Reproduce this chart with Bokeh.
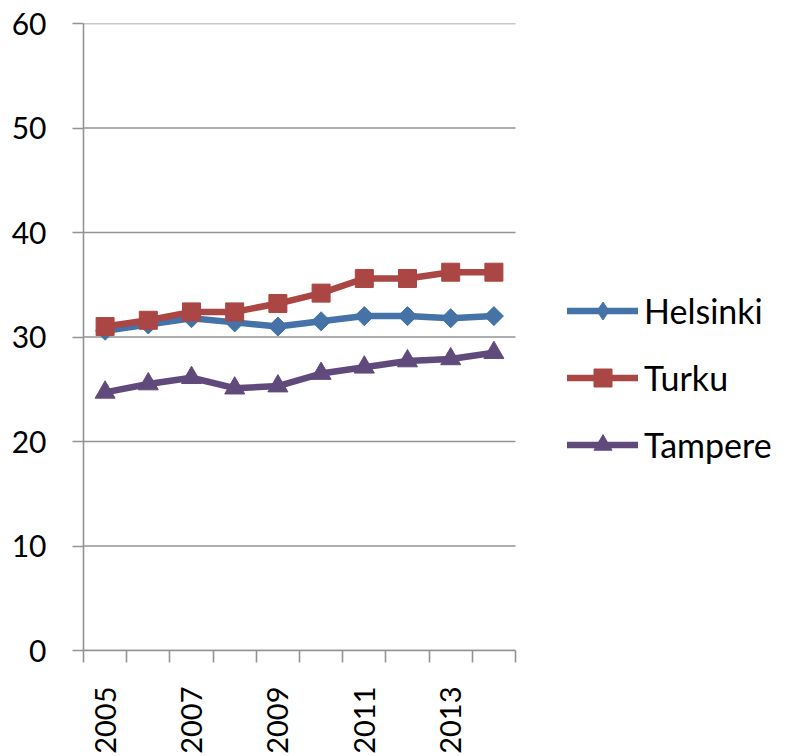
import math
from bokeh.plotting import figure
from bokeh.models import (Range1d, FixedTicker, Legend, LegendItem)
from bokeh.embed import file_html
from bokeh.resources import INLINE

years = ["2005", "2006", "2007", "2008", "2009", "2010", "2011", "2012", "2013", "2014"]
helsinki = [30.6, 31.2, 31.8, 31.4, 31.0, 31.5, 32.0, 32.0, 31.8, 32.0]
turku = [31.0, 31.6, 32.4, 32.4, 33.2, 34.2, 35.6, 35.6, 36.2, 36.2]
tampere = [24.7, 25.5, 26.1, 25.1, 25.3, 26.5, 27.1, 27.7, 27.9, 28.5]
y_ticks = [0, 10, 20, 30, 40, 50, 60]

FONT = "Lato"
GRID = "#939393"

W, H = 786, 756
LEFT, TOP, BOTTOM = 83, 23, 105
PLOT_W = 432          # pixel width of the category area
n = len(years)
x_end = n * (W - LEFT) / PLOT_W   # frame extends right to hold the legend

p = figure(width=W, height=H, output_backend="svg", toolbar_location=None,
           x_range=Range1d(0, x_end), y_range=Range1d(0, 60),
           min_border_left=LEFT, min_border_right=0, min_border_top=TOP,
           min_border_bottom=BOTTOM)
p.outline_line_color = None
p.background_fill_color = "white"

xs = [i + 0.5 for i in range(n)]

# horizontal grid lines only across the category area
p.xgrid.grid_line_color = None
p.ygrid.grid_line_color = None
p.segment(x0=[0] * len(y_ticks), x1=[n] * len(y_ticks), y0=y_ticks, y1=y_ticks,
          line_color=GRID, line_width=1.6, level="underlay")

# x axis: labels at category centres (every other year), tick marks at boundaries
label_pos = [xs[i] for i in range(0, n, 2)]
p.xaxis.bounds = (0, n)
p.xaxis.ticker = FixedTicker(ticks=label_pos, minor_ticks=list(range(n + 1)))
p.xaxis.major_label_overrides = {xs[i]: years[i] for i in range(0, n, 2)}
p.xaxis.major_tick_out = 0
p.xaxis.major_tick_in = 0
p.xaxis.minor_tick_out = 12
p.xaxis.minor_tick_in = 0
p.xaxis.minor_tick_line_color = GRID
p.xaxis.minor_tick_line_width = 1.6
p.xaxis.axis_line_color = GRID
p.xaxis.axis_line_width = 1.6
p.xaxis.major_label_orientation = math.pi / 2
p.xaxis.major_label_standoff = 24
p.xaxis.major_label_text_font = FONT
p.xaxis.major_label_text_font_size = "29px"
p.xaxis.major_label_text_color = "black"

p.yaxis.ticker = FixedTicker(ticks=y_ticks, minor_ticks=[])
p.yaxis.major_tick_out = 11
p.yaxis.major_tick_in = 0
p.yaxis.major_tick_line_color = GRID
p.yaxis.major_tick_line_width = 1.6
p.yaxis.minor_tick_line_color = None
p.yaxis.axis_line_color = GRID
p.yaxis.axis_line_width = 1.6
p.yaxis.major_label_standoff = 26
p.yaxis.major_label_text_font = FONT
p.yaxis.major_label_text_font_size = "30px"
p.yaxis.major_label_text_color = "black"

series = [
    ("Helsinki", helsinki, "#4572A7", "square", math.pi / 4, 13.5, "diamond"),
    ("Turku", turku, "#AA4643", "square", 0, 18, "square"),
    ("Tampere", tampere, "#604A7B", "triangle", 0, 20, "triangle"),
]

items = []
for name, vals, col, marker, ang, size, leg_marker in series:
    ln = p.line(xs, vals, line_color=col, line_width=6.5, line_cap="round", line_join="round")
    sc = p.scatter(xs, vals, marker=marker, angle=ang, size=size,
                   fill_color=col, line_color=col, line_width=1)
    rends = [ln, sc]
    if leg_marker != marker:
        # legend swatch only (legend markers are drawn unrotated)
        lg = p.scatter(xs, vals, marker=leg_marker, size=size,
                       fill_color=col, line_color=col, visible=False)
        rends = [ln, lg]
    items.append(LegendItem(label=name, renderers=rends))

legend = Legend(items=items, location=(484, 183), orientation="vertical",
                glyph_width=71, glyph_height=45, label_height=40, spacing=22,
                label_standoff=6, padding=0, margin=0,
                border_line_color=None, background_fill_alpha=0,
                label_text_font=FONT, label_text_font_size="34px",
                label_text_color="black")
p.add_layout(legend, "center")

open("out.html", "w").write(file_html(p, INLINE))
